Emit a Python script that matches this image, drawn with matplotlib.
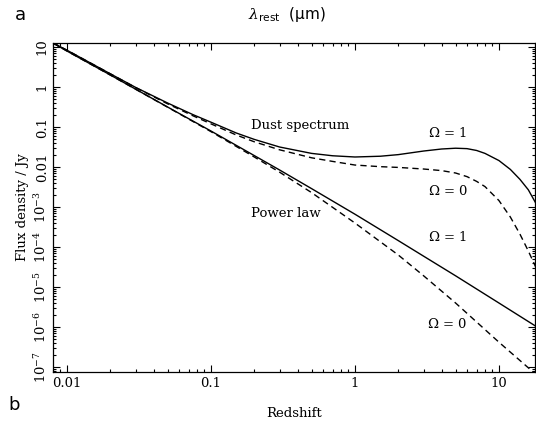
import matplotlib
matplotlib.use("Agg")
import matplotlib.pyplot as plt
import numpy as np
from matplotlib.ticker import FixedLocator, LogLocator, NullFormatter

# ---- data ----
z_pl = [0.008, 0.01, 0.02, 0.03, 0.05, 0.1, 0.2, 0.3, 0.5, 1.0, 2.0, 3.0, 5.0, 10.0, 18.0]
pl_omega1 = [12.6, 7.94, 2.0, 0.883, 0.316, 0.0794, 0.0193, 0.00841, 0.00288, 6.61e-4, 1.445e-4,
             5.89e-5, 1.905e-5, 3.98e-6, 1.05e-6]
pl_omega0 = [12.6, 7.94, 1.99, 0.879, 0.313, 0.0767, 0.0178, 0.00741, 0.00229, 3.98e-4, 6.31e-5,
             1.905e-5, 3.98e-6, 4.17e-7, 6.6e-8]

z_dust = [0.008, 0.01, 0.02, 0.03, 0.05, 0.075, 0.1, 0.15, 0.2, 0.3, 0.5, 0.7, 1.0, 1.5, 2.0, 3.0,
          4.0, 5.0, 6.0, 7.0, 8.0, 10.0, 12.0, 14.0, 16.0, 18.0]
dust_omega1 = [12.6, 8.32, 2.14, 0.977, 0.398, 0.204, 0.132, 0.0708, 0.049, 0.0316, 0.0219, 0.0191,
               0.0178, 0.0186, 0.0204, 0.0251, 0.0282, 0.0295, 0.0288, 0.0259, 0.0219, 0.0145,
               0.00871, 0.00490, 0.00269, 0.00126]
dust_omega0 = [12.6, 8.32, 2.14, 0.966, 0.380, 0.191, 0.120, 0.0631, 0.0427, 0.0269, 0.0170, 0.0138,
               0.0112, 0.0102, 0.00977, 0.00891, 0.00813, 0.00708, 0.00575, 0.00437, 0.00324,
               0.00145, 5.62e-4, 2.09e-4, 7.94e-5, 3.16e-5]

x_ticks = [0.01, 0.1, 1, 10]
x_ticklabels = ["0.01", "0.1", "1", "10"]
y_ticks = [10, 1, 0.1, 0.01, 1e-3, 1e-4, 1e-5, 1e-6, 1e-7]
y_ticklabels = ["10", "1", "0.1", "0.01", r"$10^{-3}$", r"$10^{-4}$", r"$10^{-5}$", r"$10^{-6}$", r"$10^{-7}$"]

# ---- figure ----
plt.rcParams["font.family"] = ["DejaVu Serif"]
plt.rcParams["mathtext.fontset"] = "dejavuserif"

fig = plt.figure(figsize=(5.36, 4.26), dpi=100)
ax = fig.add_axes([53 / 536, 1 - 372 / 426, (535 - 53) / 536, (372 - 43) / 426])

dash = (0, (4.5, 3.0))
ax.plot(z_dust, dust_omega1, color="black", lw=1.0)
ax.plot(z_dust, dust_omega0, color="black", lw=1.0, linestyle=dash)
ax.plot(z_pl, pl_omega1, color="black", lw=1.0)
ax.plot(z_pl, pl_omega0, color="black", lw=1.0, linestyle=dash)

ax.set_xscale("log")
ax.set_yscale("log")
ax.set_xlim(0.0080, 17.8)
ax.set_ylim(7.5e-8, 12.6)

ax.xaxis.set_major_locator(FixedLocator(x_ticks))
ax.set_xticklabels(x_ticklabels)
ax.xaxis.set_minor_locator(LogLocator(base=10, subs=np.arange(2, 10), numticks=20))
ax.xaxis.set_minor_formatter(NullFormatter())
ax.yaxis.set_major_locator(FixedLocator(y_ticks))
ax.set_yticklabels(y_ticklabels)
ax.yaxis.set_minor_locator(LogLocator(base=10, subs=np.arange(2, 10), numticks=20))
ax.yaxis.set_minor_formatter(NullFormatter())

ax.tick_params(which="both", direction="in", top=True, right=True, width=0.8)
ax.tick_params(which="major", length=5)
ax.tick_params(which="minor", length=2.5)
ax.tick_params(axis="both", labelsize=9.5)
ax.tick_params(axis="y", labelrotation=90, pad=3)
for lab in ax.get_yticklabels():
    lab.set_va("center")
for s in ax.spines.values():
    s.set_linewidth(0.9)

ax.set_xlabel("Redshift", fontsize=9.5, labelpad=12)
ax.set_ylabel("Flux density / Jy", fontsize=9.5, labelpad=3)

# annotations
fs = 9.5
ax.text(0.19, 0.11, "Dust spectrum", fontsize=fs, va="center", ha="left")
ax.text(3.2, 0.072, r"$\Omega$ = 1", fontsize=fs, va="center", ha="left")
ax.text(3.2, 0.0025, r"$\Omega$ = 0", fontsize=fs, va="center", ha="left")
ax.text(0.19, 7.0e-4, "Power law", fontsize=fs, va="center", ha="left")
ax.text(3.2, 1.8e-4, r"$\Omega$ = 1", fontsize=fs, va="center", ha="left")
ax.text(3.15, 1.2e-6, r"$\Omega$ = 0", fontsize=fs, va="center", ha="left")

fig.text(15 / 536, 1 - 15 / 426, "a", fontsize=13, family="DejaVu Sans", va="center", ha="left")
fig.text(8 / 536, 1 - 405 / 426, "b", fontsize=13, family="DejaVu Sans", va="center", ha="left")
fig.text(287 / 536, 1 - 15 / 426, r"$\lambda_{\mathsf{rest}}$  (μm)", fontsize=11, family="DejaVu Sans",
         va="center", ha="center")

fig.savefig("out.png", dpi=100)
